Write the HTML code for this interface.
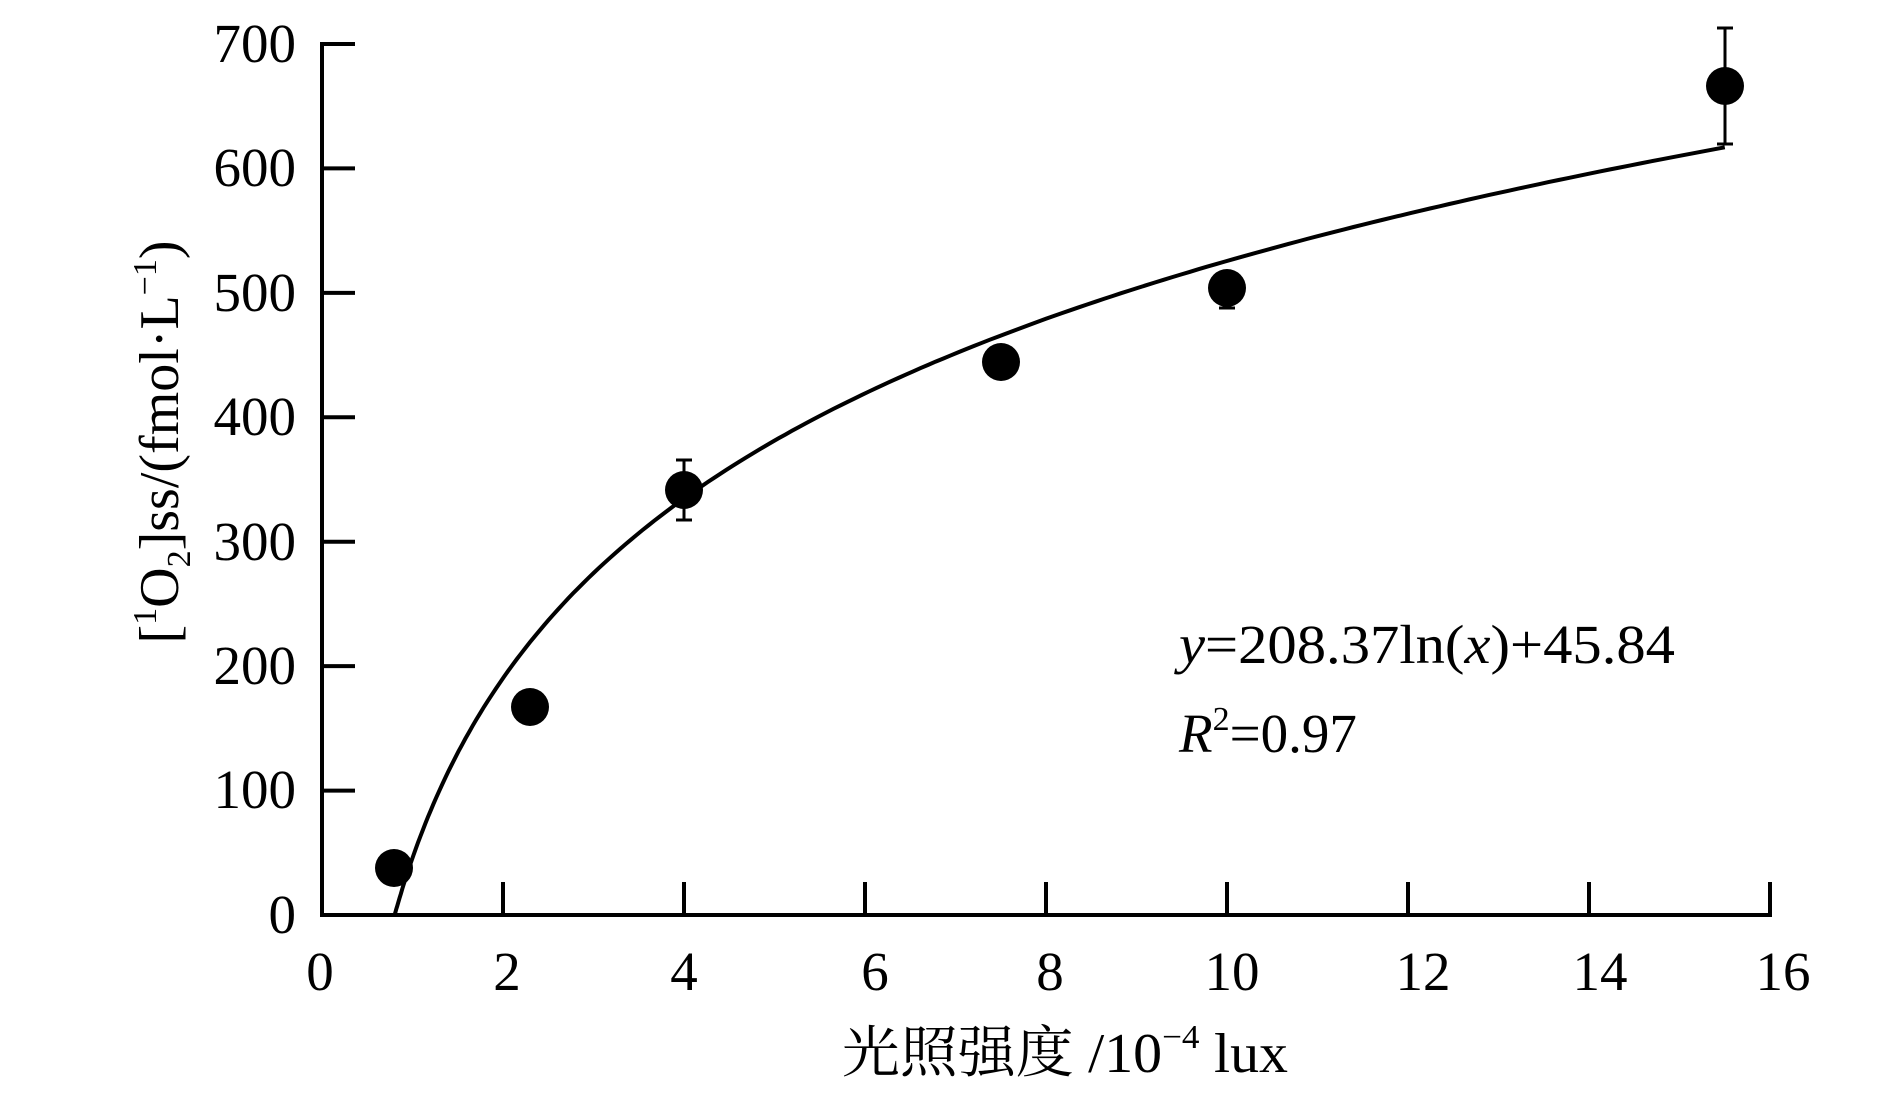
<!DOCTYPE html>
<html><head><meta charset="utf-8"><style>
html,body{margin:0;padding:0;background:#fff;}
svg{display:block;}
text{font-family:"Liberation Serif","Noto Serif CJK SC",serif;fill:#000;}
</style></head><body>
<svg width="1887" height="1109" viewBox="0 0 1887 1109" xmlns="http://www.w3.org/2000/svg">
<g stroke="#000" stroke-width="4" fill="none">
<line x1="322" y1="42" x2="322" y2="917"/>
<line x1="320" y1="915" x2="1772" y2="915"/>
<line x1="322" y1="44" x2="355" y2="44"/>
<line x1="322" y1="168.4" x2="355" y2="168.4"/>
<line x1="322" y1="292.9" x2="355" y2="292.9"/>
<line x1="322" y1="417.3" x2="355" y2="417.3"/>
<line x1="322" y1="541.7" x2="355" y2="541.7"/>
<line x1="322" y1="666.1" x2="355" y2="666.1"/>
<line x1="322" y1="790.6" x2="355" y2="790.6"/>
<line x1="503" y1="915" x2="503" y2="882"/>
<line x1="684" y1="915" x2="684" y2="882"/>
<line x1="865" y1="915" x2="865" y2="882"/>
<line x1="1046" y1="915" x2="1046" y2="882"/>
<line x1="1227" y1="915" x2="1227" y2="882"/>
<line x1="1408" y1="915" x2="1408" y2="882"/>
<line x1="1589" y1="915" x2="1589" y2="882"/>
<line x1="1770" y1="915" x2="1770" y2="882"/>
</g>
<g font-size="55" text-anchor="end">
<text x="296" y="62">700</text>
<text x="296" y="186">600</text>
<text x="296" y="311">500</text>
<text x="296" y="435">400</text>
<text x="296" y="560">300</text>
<text x="296" y="684">200</text>
<text x="296" y="808">100</text>
<text x="296" y="933">0</text>
</g>
<g font-size="55" text-anchor="middle">
<text x="320" y="990">0</text>
<text x="507" y="990">2</text>
<text x="684" y="990">4</text>
<text x="875" y="990">6</text>
<text x="1050" y="990">8</text>
<text x="1232" y="990">10</text>
<text x="1423" y="990">12</text>
<text x="1600" y="990">14</text>
<text x="1783" y="990">16</text>
</g>
<text x="842" y="1072" font-size="56" textLength="446" lengthAdjust="spacingAndGlyphs">光照强度 /10<tspan font-size="34" dy="-24">−4</tspan><tspan dy="24"> lux</tspan></text>
<text transform="translate(178,442) rotate(-90)" text-anchor="middle" font-size="56">[<tspan font-size="34" dy="-22">1</tspan><tspan dy="22">O</tspan><tspan font-size="34" dy="12">2</tspan><tspan dy="-12">]ss/(fmol·L</tspan><tspan font-size="34" dy="-22">−1</tspan><tspan dy="22">)</tspan></text>
<text x="1179" y="663" font-size="55" textLength="496" lengthAdjust="spacingAndGlyphs"><tspan font-style="italic">y</tspan>=208.37ln(<tspan font-style="italic">x</tspan>)+45.84</text>
<text x="1179" y="752" font-size="55"><tspan font-style="italic">R</tspan><tspan font-size="34" dy="-22">2</tspan><tspan dy="22">=0.97</tspan></text>
<path id="curve" stroke="#000" stroke-width="4" fill="none" d=""/>
<g stroke="#000" stroke-width="3">
<line x1="684" y1="460" x2="684" y2="520"/><line x1="676" y1="460" x2="692" y2="460"/><line x1="676" y1="520" x2="692" y2="520"/>
<line x1="1227" y1="288" x2="1227" y2="308"/><line x1="1219" y1="288" x2="1235" y2="288"/><line x1="1219" y1="308" x2="1235" y2="308"/>
<line x1="1725" y1="28" x2="1725" y2="144"/><line x1="1717" y1="28" x2="1733" y2="28"/><line x1="1717" y1="144" x2="1733" y2="144"/>
</g>
<g fill="#000">
<circle cx="394" cy="868" r="19"/>
<circle cx="530" cy="707" r="19"/>
<circle cx="684" cy="490" r="19"/>
<circle cx="1001" cy="362" r="19"/>
<circle cx="1227" cy="288" r="19"/>
<circle cx="1725" cy="86" r="19"/>
</g>
</svg>
<script>
var d="",x0=Math.exp(-45.84/208.37);
for(var i=0;i<=200;i++){var x=x0+(15.5-x0)*Math.pow(i/200,1.6);var y=208.37*Math.log(x)+45.84;
var px=322+x*90.5,py=915-y*1.2443;d+=(i?"L":"M")+px.toFixed(1)+","+py.toFixed(1);}
document.getElementById("curve").setAttribute("d",d);
</script>
</body></html>
